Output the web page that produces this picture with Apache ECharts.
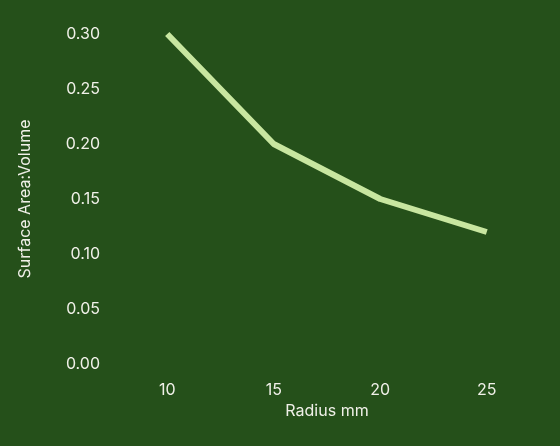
<!DOCTYPE html>
<html><head><meta charset="utf-8">
<script src="https://cdn.jsdelivr.net/npm/echarts@6/dist/echarts.min.js"></script>
<style>html,body{margin:0;padding:0;background:#25501a}#c{width:560px;height:446px}</style>
</head><body><div id="c"></div>
<script>
const categories = ['10','15','20','25'];
const values = [0.30, 0.20, 0.15, 0.12];
const chart = echarts.init(document.getElementById('c'));
chart.setOption({
  backgroundColor:'#25501a',
  grid:{left:114,right:20,top:34,bottom:82},
  xAxis:{type:'category',data:categories,boundaryGap:true,
    name:'Radius mm',nameLocation:'middle',nameGap:30,
    nameTextStyle:{color:'#f0f0e8',fontSize:16,fontFamily:'Inter'},
    axisLine:{show:false},axisTick:{show:false},
    axisLabel:{color:'#f0f0e8',fontSize:16,fontFamily:'Inter',margin:18}},
  yAxis:{type:'value',min:0,max:0.3,interval:0.05,
    name:'Surface Area:Volume',nameLocation:'middle',nameGap:81,
    nameTextStyle:{color:'#f0f0e8',fontSize:16,fontFamily:'Inter'},
    splitLine:{show:false},axisLine:{show:false},axisTick:{show:false},
    axisLabel:{color:'#f0f0e8',fontSize:16,fontFamily:'Inter',margin:14,formatter:v=>v.toFixed(2)}},
  series:[{type:'line',data:values,symbol:'none',lineStyle:{color:'#c8e6a0',width:6}}]
});
</script></body></html>
